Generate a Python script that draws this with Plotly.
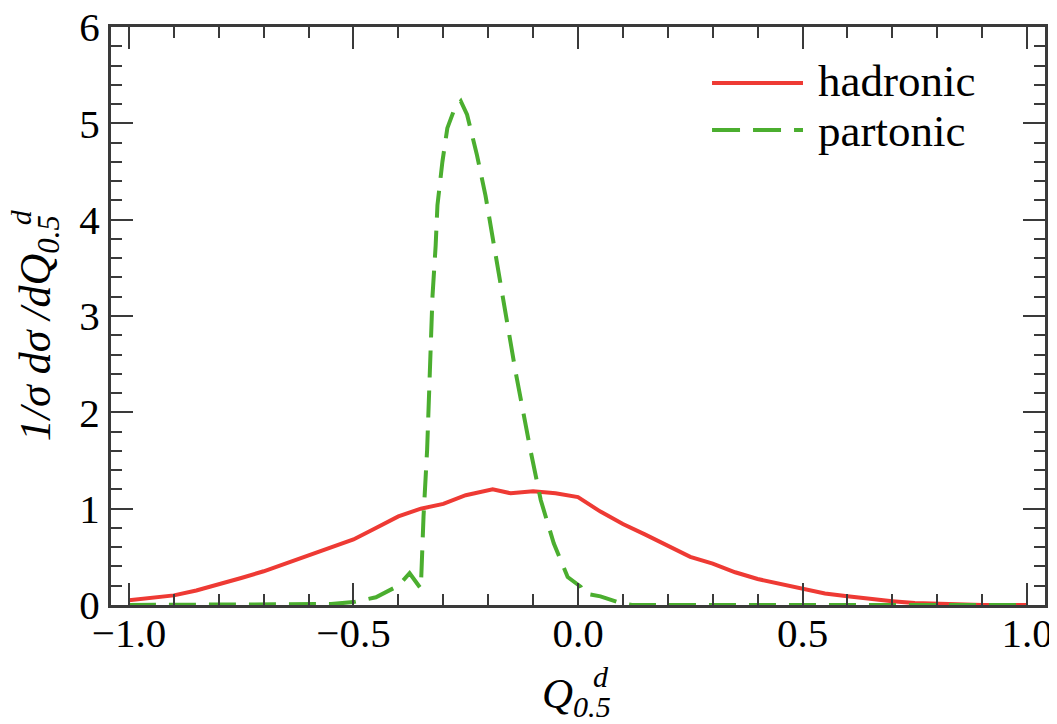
import plotly.graph_objects as go

# hadronic (red, solid)
x_had = [-1.0, -0.95, -0.9, -0.85, -0.8, -0.75, -0.7, -0.65, -0.6, -0.55, -0.5, -0.45,
         -0.4, -0.35, -0.3, -0.25, -0.19, -0.15, -0.1, -0.05, 0.0, 0.05, 0.1, 0.15, 0.2,
         0.25, 0.3, 0.35, 0.4, 0.45, 0.5, 0.55, 0.6, 0.65, 0.7, 0.75, 0.8, 0.85, 0.9, 0.95, 1.0]
y_had = [0.05, 0.07, 0.10, 0.15, 0.21, 0.28, 0.35, 0.43, 0.51, 0.59, 0.68, 0.80,
         0.92, 1.00, 1.05, 1.14, 1.20, 1.16, 1.18, 1.16, 1.12, 0.97, 0.84, 0.73, 0.61,
         0.50, 0.43, 0.34, 0.27, 0.22, 0.17, 0.12, 0.09, 0.06, 0.04, 0.02, 0.01, 0.01, 0.0, 0.0, 0.0]

# partonic (green, dashed)
x_par = [-1.0, -0.9, -0.8, -0.7, -0.6, -0.55, -0.5, -0.45, -0.4, -0.375, -0.35, -0.344,
         -0.336, -0.33, -0.324, -0.317, -0.313, -0.302, -0.291, -0.275, -0.261, -0.247,
         -0.225, -0.206, -0.187, -0.169, -0.15, -0.139, -0.106, -0.083, -0.054, -0.023,
         0.006, 0.013, 0.05, 0.088, 0.12, 0.2, 0.3, 0.4, 0.5, 0.6, 0.7, 0.8, 0.9, 1.0]
y_par = [0.0, 0.0, 0.0, 0.0, 0.0, 0.01, 0.03, 0.08, 0.20, 0.33, 0.17, 0.92,
         1.61, 2.42, 3.21, 3.73, 4.15, 4.60, 4.95, 5.15, 5.23, 5.09,
         4.67, 4.25, 3.73, 3.21, 2.69, 2.42, 1.61, 1.09, 0.64, 0.29,
         0.19, 0.12, 0.09, 0.03, 0.0, 0.0, 0.0, 0.0, 0.0, 0.0, 0.0, 0.0, 0.0, 0.0]

series_names = ["hadronic", "partonic"]
x_tickvals = [-1.0, -0.5, 0.0, 0.5, 1.0]
x_ticktext = ["\u22121.0", "\u22120.5", "0.0", "0.5", "1.0"]
y_tickvals = [0, 1, 2, 3, 4, 5, 6]

RED = "#ee3a34"
GREEN = "#4bae2f"
AX = "#3a3a3a"
FONT = "Liberation Serif"
FS = 41
DASH = "27px,13px"

fig = go.Figure()
fig.add_trace(go.Scatter(x=x_had, y=y_had, mode="lines", name=series_names[0],
                         line=dict(color=RED, width=4), showlegend=False))
fig.add_trace(go.Scatter(x=x_par, y=y_par, mode="lines", name=series_names[1],
                         line=dict(color=GREEN, width=4, dash=DASH), showlegend=False))

# page body has an 8px margin: compensate so plot area sits at 111..1045 x 27..605
fig.update_layout(
    width=1049, height=716,
    margin=dict(l=103, r=12, t=19, b=119, autoexpand=False),
    paper_bgcolor="white", plot_bgcolor="white",
    font=dict(family=FONT, size=FS, color="black"),
    showlegend=False,
)

fig.update_xaxes(
    range=[-1.04, 1.04], tickvals=x_tickvals, ticktext=x_ticktext,
    ticks="inside", ticklen=22, tickwidth=2, tickcolor=AX,
    showline=True, linecolor=AX, linewidth=3, mirror="ticks",
    showgrid=False, zeroline=False, automargin=False,
    ticklabelstandoff=-10, ticklabeloverflow="allow",
    minor=dict(dtick=0.1, tick0=0, ticks="inside", ticklen=11, tickwidth=2, tickcolor=AX, showgrid=False),
    tickfont=dict(family=FONT, size=FS),
)
fig.update_yaxes(
    range=[0, 6], tickvals=y_tickvals,
    ticks="inside", ticklen=22, tickwidth=2, tickcolor=AX,
    showline=True, linecolor=AX, linewidth=3, mirror="ticks",
    showgrid=False, zeroline=False, automargin=False,
    ticklabeloverflow="allow",
    minor=dict(dtick=0.2, tick0=0, ticks="inside", ticklen=11, tickwidth=2, tickcolor=AX, showgrid=False),
    tickfont=dict(family=FONT, size=FS),
)

# legend drawn manually (tighter rows than plotly's legend allows)
LF = dict(family=FONT, size=45, color="black")
fig.add_shape(type="line", xref="paper", yref="paper", x0=0.6435, x1=0.7409, y0=0.903, y1=0.903,
              line=dict(color=RED, width=4))
fig.add_shape(type="line", xref="paper", yref="paper", x0=0.6435, x1=0.7409, y0=0.8218, y1=0.8218,
              line=dict(color=GREEN, width=4, dash="28px,13px"))
fig.add_annotation(text=series_names[0], xref="paper", yref="paper", x=0.755, y=0.906,
                   xanchor="left", yanchor="middle", showarrow=False, font=LF)
fig.add_annotation(text=series_names[1], xref="paper", yref="paper", x=0.755, y=0.82,
                   xanchor="left", yanchor="middle", showarrow=False, font=LF)

# axis titles with stacked super/subscripts
TF = dict(family=FONT, size=43, color="black")
fig.add_annotation(text="<i>Q</i><sub><i>0.5</i></sub>", xref="paper", yref="paper",
                   x=0.498, y=-0.16, xanchor="center", yanchor="middle",
                   showarrow=False, font=TF)
fig.add_annotation(text="<i>d</i>", xref="paper", yref="paper",
                   x=0.525, y=-0.124, xanchor="center", yanchor="middle",
                   showarrow=False, font=dict(family=FONT, size=30, color="black"))
fig.add_annotation(text="<i>1/\u03c3 d\u03c3 /dQ</i><sub><i>0.5</i></sub>", xref="paper", yref="paper",
                   x=-0.078, y=0.479, xanchor="center", yanchor="middle", textangle=-90,
                   showarrow=False, font=dict(family=FONT, size=44, color="black"))
fig.add_annotation(text="<i>d</i>", xref="paper", yref="paper",
                   x=-0.0974, y=0.671, xanchor="center", yanchor="middle", textangle=-90,
                   showarrow=False, font=dict(family=FONT, size=30, color="black"))

fig.write_html("out.html")
